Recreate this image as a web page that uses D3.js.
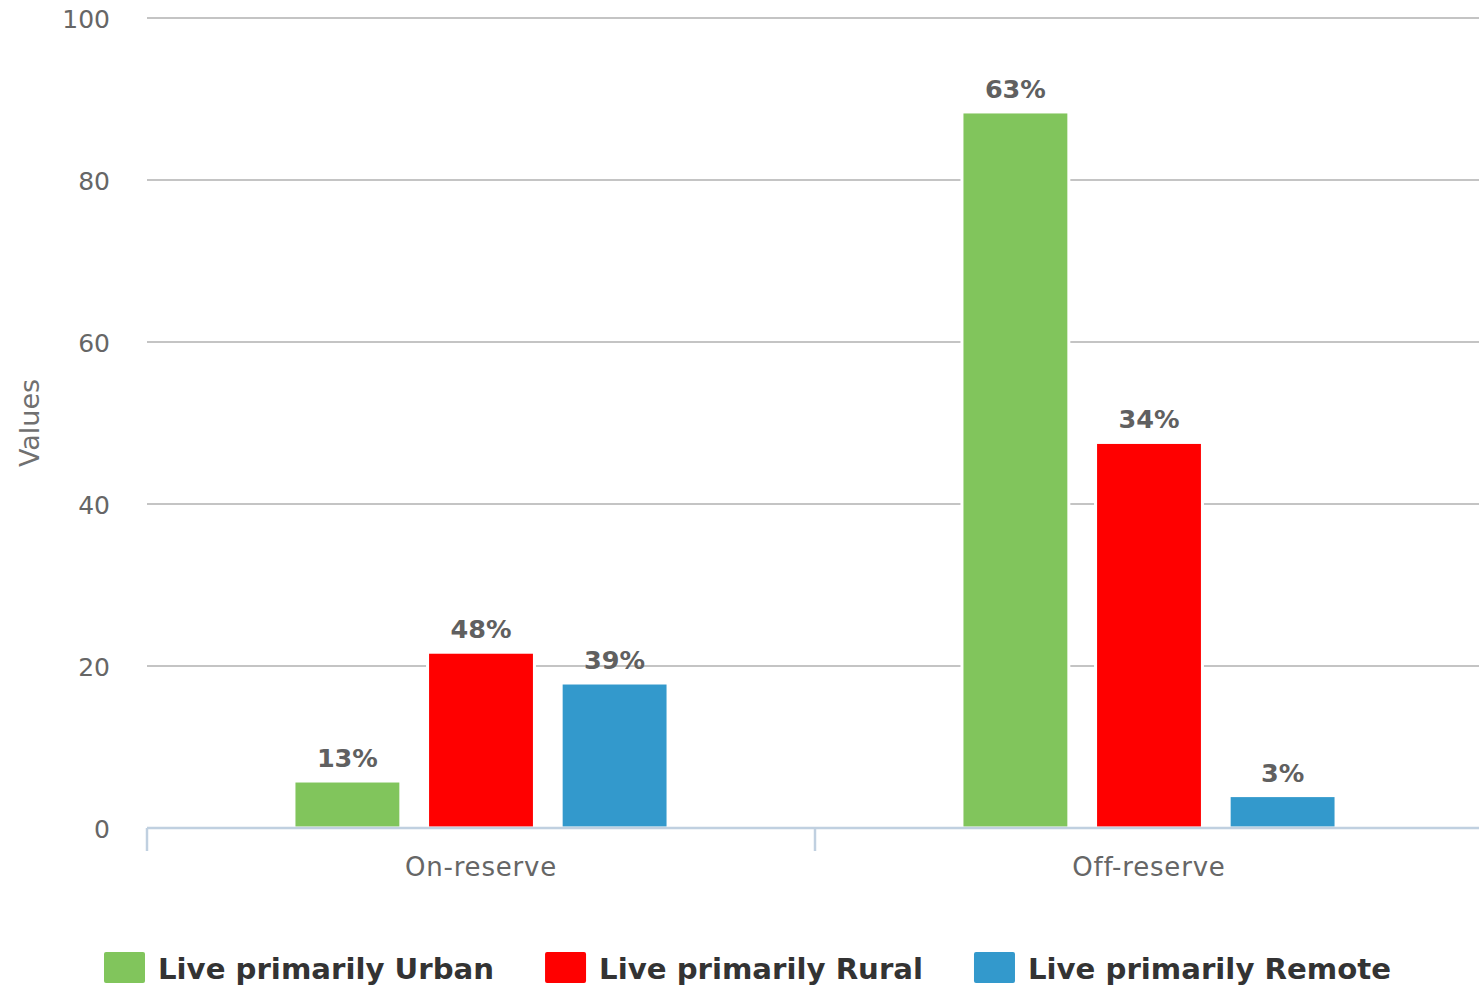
<!DOCTYPE html>
<html>
<head>
<meta charset="utf-8">
<script src="https://cdn.jsdelivr.net/npm/d3@7"></script>
<style>
  html, body { margin: 0; padding: 0; background: #fff; }
  svg { display: block; font-family: "DejaVu Sans", sans-serif; }
</style>
</head>
<body>
<svg id="chart" width="1479" height="986"></svg>
<script>
// data
var categories = ["On-reserve", "Off-reserve"];
var seriesNames = ["Live primarily Urban", "Live primarily Rural", "Live primarily Remote"];
var seriesColors = ["#81c55c", "#ff0000", "#3399cc"];
var urbanValues = [5.8, 88.4];
var ruralValues = [21.7, 47.6];
var remoteValues = [17.9, 4.0];
var urbanLabels = ["13%", "63%"];
var ruralLabels = ["48%", "34%"];
var remoteLabels = ["39%", "3%"];
var yTicks = [0, 20, 40, 60, 80, 100];

var seriesValues = [urbanValues, ruralValues, remoteValues];
var seriesLabels = [urbanLabels, ruralLabels, remoteLabels];

var plotLeft = 147, plotRight = 1483, plotTop = 18, plotBottom = 828;

var svg = d3.select("#chart");

var y = d3.scaleLinear().domain([0, 100]).range([plotBottom, plotTop]);

var x0 = d3.scaleBand()
  .domain(categories)
  .range([plotLeft, plotRight])
  .padding(0);

// highcharts-like group padding 0.2, point padding 0.1
var x1 = d3.scaleBand()
  .domain(seriesNames)
  .range([x0.bandwidth() * 0.2, x0.bandwidth() * 0.8])
  .paddingInner(0.2)
  .paddingOuter(0.1);

// gridlines
svg.append("g")
  .selectAll("line")
  .data(yTicks)
  .enter()
  .append("line")
  .attr("x1", plotLeft)
  .attr("x2", plotRight)
  .attr("y1", function(d){ return y(d); })
  .attr("y2", function(d){ return y(d); })
  .attr("stroke", "#c4c4c4")
  .attr("stroke-width", 2);

// y tick labels
svg.append("g")
  .selectAll("text")
  .data(yTicks)
  .enter()
  .append("text")
  .attr("x", 110)
  .attr("y", function(d){ return y(d) + 10; })
  .attr("text-anchor", "end")
  .attr("font-size", 25)
  .attr("fill", "#666")
  .text(function(d){ return d; });

// y axis title
svg.append("text")
  .attr("transform", "translate(39," + ((plotTop + plotBottom) / 2) + ") rotate(-90)")
  .attr("text-anchor", "middle")
  .attr("font-size", 27)
  .attr("fill", "#707070")
  .text("Values");

// bars
var rows = [];
seriesNames.forEach(function(s, i){
  categories.forEach(function(c, j){
    rows.push({ series: s, cat: c, value: seriesValues[i][j], label: seriesLabels[i][j], color: seriesColors[i] });
  });
});

var bars = svg.append("g");
bars.selectAll("rect")
  .data(rows)
  .enter()
  .append("rect")
  .attr("x", function(d){ return x0(d.cat) + x1(d.series); })
  .attr("y", function(d){ return y(d.value); })
  .attr("width", x1.bandwidth())
  .attr("height", function(d){ return y(0) - y(d.value); })
  .attr("fill", function(d){ return d.color; })
  .attr("stroke", "#fff")
  .attr("stroke-width", 3);

// data labels
bars.selectAll("text")
  .data(rows)
  .enter()
  .append("text")
  .attr("x", function(d){ return x0(d.cat) + x1(d.series) + x1.bandwidth() / 2; })
  .attr("y", function(d){ return y(d.value) - 14; })
  .attr("text-anchor", "middle")
  .attr("font-size", 25.5)
  .attr("font-weight", "bold")
  .attr("fill", "#606060")
  .text(function(d){ return d.label; });

// x axis
var xAxis = svg.append("g");
xAxis.append("line")
  .attr("x1", plotLeft)
  .attr("x2", plotRight)
  .attr("y1", plotBottom)
  .attr("y2", plotBottom)
  .attr("stroke", "#c0d0e0")
  .attr("stroke-width", 2.5);

xAxis.selectAll("line.tick")
  .data(categories.concat(["end"]))
  .enter()
  .append("line")
  .attr("class", "tick")
  .attr("x1", function(d, i){ return plotLeft + i * x0.step(); })
  .attr("x2", function(d, i){ return plotLeft + i * x0.step(); })
  .attr("y1", plotBottom)
  .attr("y2", plotBottom + 23)
  .attr("stroke", "#c0d0e0")
  .attr("stroke-width", 2.5);

xAxis.selectAll("text")
  .data(categories)
  .enter()
  .append("text")
  .attr("x", function(d){ return x0(d) + x0.bandwidth() / 2; })
  .attr("y", 876)
  .attr("text-anchor", "middle")
  .attr("font-size", 26)
  .attr("letter-spacing", 0.8)
  .attr("fill", "#666")
  .text(function(d){ return d; });

// legend
var legend = svg.append("g");
var lx = 104;
seriesNames.forEach(function(s, i){
  legend.append("rect")
    .attr("x", lx)
    .attr("y", 952)
    .attr("width", 41)
    .attr("height", 31)
    .attr("rx", 2)
    .attr("fill", seriesColors[i]);
  var t = legend.append("text")
    .attr("x", lx + 54)
    .attr("y", 979)
    .attr("font-size", 29.2)
    .attr("font-weight", "bold")
    .attr("fill", "#333")
    .text(s);
  lx = lx + 54 + t.node().getComputedTextLength() + 51;
});
</script>
</body>
</html>
